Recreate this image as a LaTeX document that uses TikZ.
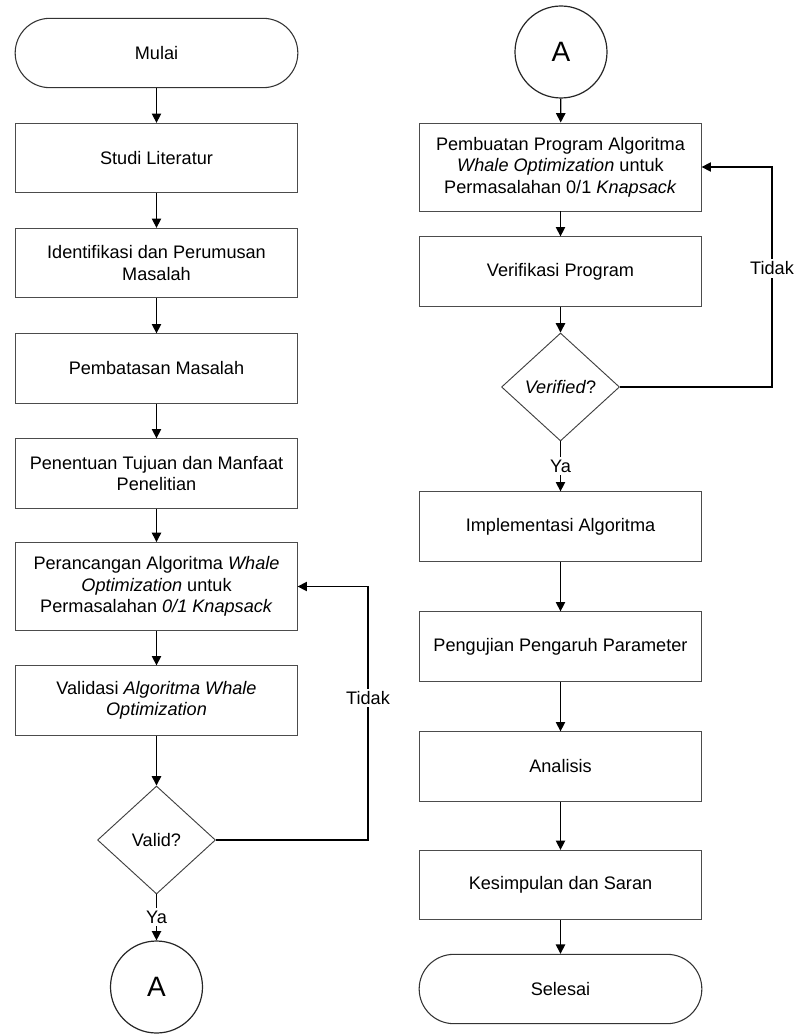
\documentclass[tikz,border=0pt]{standalone}
\usepackage{fontspec}
\setmainfont{Liberation Sans}
\usetikzlibrary{arrows.meta,shapes.geometric}

\begin{document}
\begin{tikzpicture}[x = 0.75pt, y = -0.75pt,
        every node/.style = {font = \fontsize{13.6}{16}\selectfont},
        box/.style = {draw = black!70, line width = 0.7pt, rectangle, align = center, minimum width = 211pt, minimum height = 52pt, inner sep = 0pt},
        tallbox/.style = {box, minimum height = 66pt},
        term/.style = {draw = black!80, line width = 0.8pt, rectangle, rounded corners = 26pt, minimum width = 212pt, minimum height = 52pt},
        decision/.style = {draw = black!75, line width = 0.7pt, diamond, aspect = 1.09, inner sep = 0pt, minimum width = 88.5pt, minimum height = 81pt},
        joint/.style = {draw = black!85, line width = 0.9pt, circle, minimum size = 69pt, inner sep = 0pt, font = \fontsize{21}{24}\selectfont},
        conn/.style = {-{Triangle[width = 7pt, length = 7pt]}, line width = 1pt},
        lbl/.style = {fill = white, inner sep = 2pt}]

        \useasboundingbox (0, 0) rectangle (794, 1034);

        % Left Column
        \node [term] (mulai) at (156.5, 53) {Mulai};
        \node [box] (studi) at (156.5, 158) {Studi Literatur};
        \node [box] (ident) at (156.5, 263) {Identifikasi dan Perumusan\\Masalah};
        \node [box] (batas) at (156.5, 368.5) {Pembatasan Masalah};
        \node [box] (tujuan) at (156.5, 473.5) {Penentuan Tujuan dan Manfaat\\Penelitian};
        \node [tallbox] (rancang) at (156.5, 586.5) {Perancangan Algoritma \textit{Whale}\\\textit{Optimization} untuk\\Permasalahan \textit{0/1 Knapsack}};
        \node [box] (validasi) at (156.5, 700.5) {Validasi \textit{Algoritma Whale}\\\textit{Optimization}};
        \node [decision] (valid) at (156.5, 840) {Valid?};
        \node [joint] (ka) at (156.5, 987) {A};

        % Right Column
        \node [joint] (kb) at (561, 52) {A};
        \node [tallbox] (buat) at (560.5, 167) {Pembuatan Program Algoritma\\\textit{Whale Optimization} untuk\\Permasalahan 0/1 \textit{Knapsack}};
        \node [box] (verif) at (560.5, 271.5) {Verifikasi Program};
        \node [decision] (verified) at (560.5, 387) {\textit{Verified}?};
        \node [box] (impl) at (560.5, 526.5) {Implementasi Algoritma};
        \node [box] (uji) at (560.5, 646.5) {Pengujian Pengaruh Parameter};
        \node [box] (analisis) at (560.5, 766.5) {Analisis};
        \node [box] (simpul) at (560.5, 885) {Kesimpulan dan Saran};
        \node [term] (selesai) at (560.5, 989) {Selesai};

        \coordinate (lp) at (368, 586.5);
        \coordinate (rp) at (772, 167);

        % Straight Direction
        \draw [conn] (mulai) -- (studi);
        \draw [conn] (studi) -- (ident);
        \draw [conn] (ident) -- (batas);
        \draw [conn] (batas) -- (tujuan);
        \draw [conn] (tujuan) -- (rancang);
        \draw [conn] (rancang) -- (validasi);
        \draw [conn] (validasi) -- (valid);
        \draw [conn] (valid) -- node [lbl] {Ya} (ka);
        \draw [conn] (kb) -- (buat);
        \draw [conn] (buat) -- (verif);
        \draw [conn] (verif) -- (verified);
        \draw [conn] (verified) -- node [lbl] {Ya} (impl);
        \draw [conn] (impl) -- (uji);
        \draw [conn] (uji) -- (analisis);
        \draw [conn] (analisis) -- (simpul);
        \draw [conn] (simpul) -- (selesai);

        % Back Direction
        \draw [conn] (valid.east) -| node [lbl, pos = 0.78] {Tidak} (lp) -- (rancang.east);
        \draw [conn] (verified.east) -| node [lbl, pos = 0.77] {Tidak} (rp) -- (buat.east);

    \end{tikzpicture}
\end{document}
